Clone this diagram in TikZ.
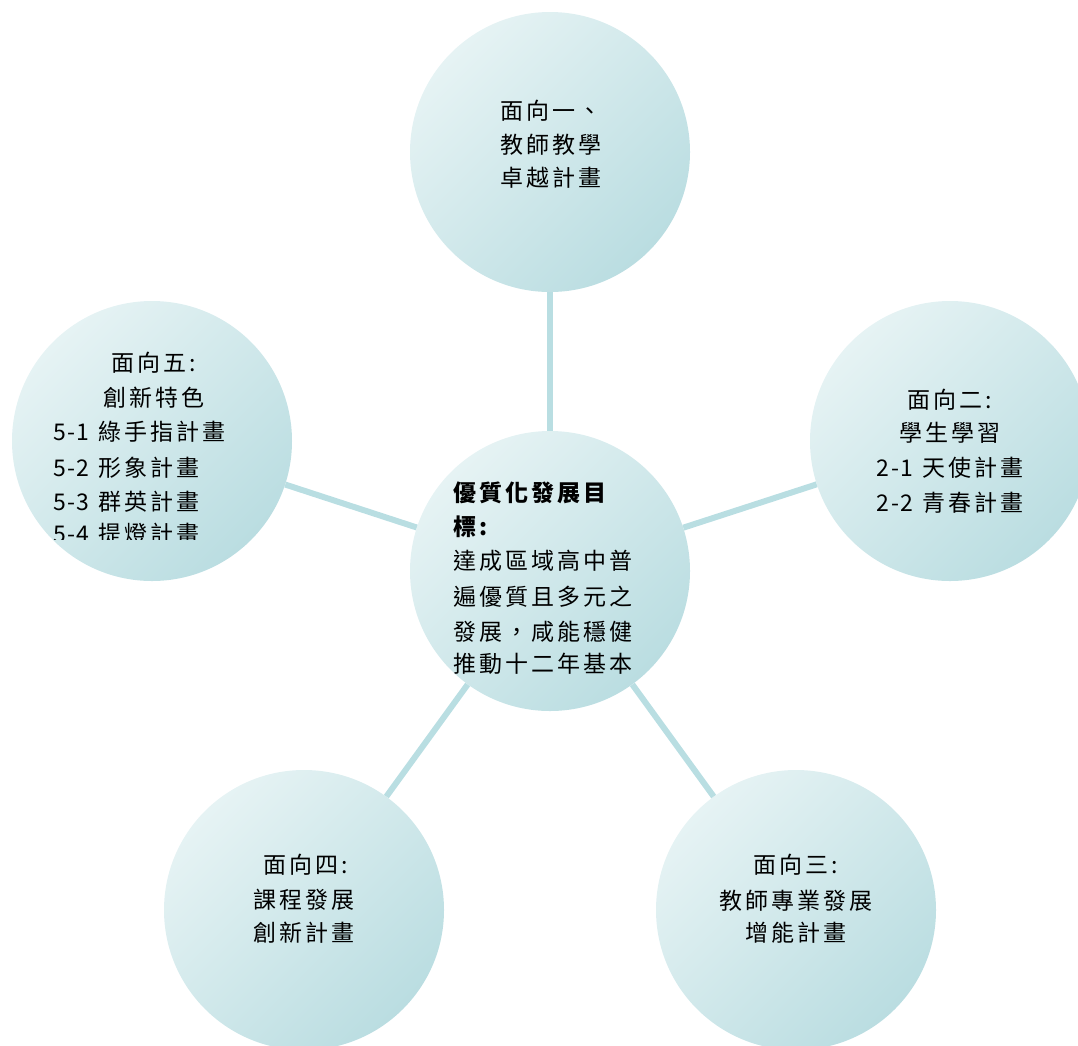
\documentclass[tikz,border=0pt]{standalone}
\usepackage{fontspec}
\newfontfamily\cjk[LetterSpace=13]{Noto Sans CJK TC}
\newfontfamily\cjkn[LetterSpace=6]{Noto Sans CJK TC}
\newcommand{\numpart}[1]{{\cjkn #1}\hspace{9pt}}
\definecolor{linec}{HTML}{B9DEE2}
\definecolor{cl}{HTML}{E6F3F4}
\definecolor{cd}{HTML}{BADDE1}
\begin{document}
\begin{tikzpicture}[x=1pt,y=-1pt,
  bubble/.style={circle, minimum size=280pt, inner sep=0pt, top color=cl, bottom color=cd, shading angle=45},
  link/.style={draw=linec, line width=6pt},
  lbl/.style={inner sep=0pt, font=\cjk\fontsize{23}{26}\selectfont},
  bold/.style={font=\cjk\bfseries\fontsize{23}{26}\selectfont}]
\useasboundingbox (0,0) rectangle (1078,1045);
\clip (0,0) rectangle (1078,1045);
% circles
\node[bubble] (top) at (550,152) {};
\node[bubble] (right) at (950,441) {};
\node[bubble] (left) at (152,441) {};
\node[bubble] (center) at (550,571) {};
\node[bubble] (bl) at (304,910) {};
\node[bubble] (br) at (796,910) {};
% connectors
\draw[link] (center) -- (top);
\draw[link] (center) -- (right);
\draw[link] (center) -- (left);
\draw[link] (center) -- (bl);
\draw[link] (center) -- (br);
% top texts
\node[lbl, anchor=west] (t1) at (500,111) {面向一、};
\node[lbl, anchor=west] (t2) at (500,145) {教師教學};
\node[lbl, anchor=west] (t3) at (500,178) {卓越計畫};
% right texts
\node[lbl] (r1) at (950,400) {面向二:};
\node[lbl] (r2) at (950,433) {學生學習};
\node[lbl] (r3) at (950,468) {\numpart{2-1}天使計畫};
\node[lbl] (r4) at (950,503) {\numpart{2-2}青春計畫};
% left texts
\node[lbl] (l1) at (154,363) {面向五:};
\node[lbl] (l2) at (154,398) {創新特色};
\node[lbl, anchor=west] (l3) at (53,432) {\numpart{5-1}綠手指計畫};
\node[lbl, anchor=west] (l4) at (53,468) {\numpart{5-2}形象計畫};
\node[lbl, anchor=west] (l5) at (53,502) {\numpart{5-3}群英計畫};
\begin{scope}
\clip (0,0) rectangle (1078,539);
\node[lbl, anchor=west] (l6) at (53,534) {\numpart{5-4}提燈計畫};
\end{scope}
% center texts
\node[lbl, bold, anchor=west] (c1) at (453,493) {優質化發展目};
\node[lbl, bold, anchor=west] (c2) at (453,527) {標:};
\node[lbl, anchor=west] (c3) at (453,561) {達成區域高中普};
\node[lbl, anchor=west] (c4) at (453,597) {遍優質且多元之};
\node[lbl, anchor=west] (c5) at (453,632) {發展，咸能穩健};
\node[lbl, anchor=west] (c6) at (453,664) {推動十二年基本};
% bottom-left texts
\node[lbl] (b1) at (306,865) {面向四:};
\node[lbl] (b2) at (304,900) {課程發展};
\node[lbl] (b3) at (304,933) {創新計畫};
% bottom-right texts
\node[lbl] (e1) at (796,865) {面向三:};
\node[lbl] (e2) at (796,901) {教師專業發展};
\node[lbl] (e3) at (796,933) {增能計畫};
\end{tikzpicture}
\end{document}
